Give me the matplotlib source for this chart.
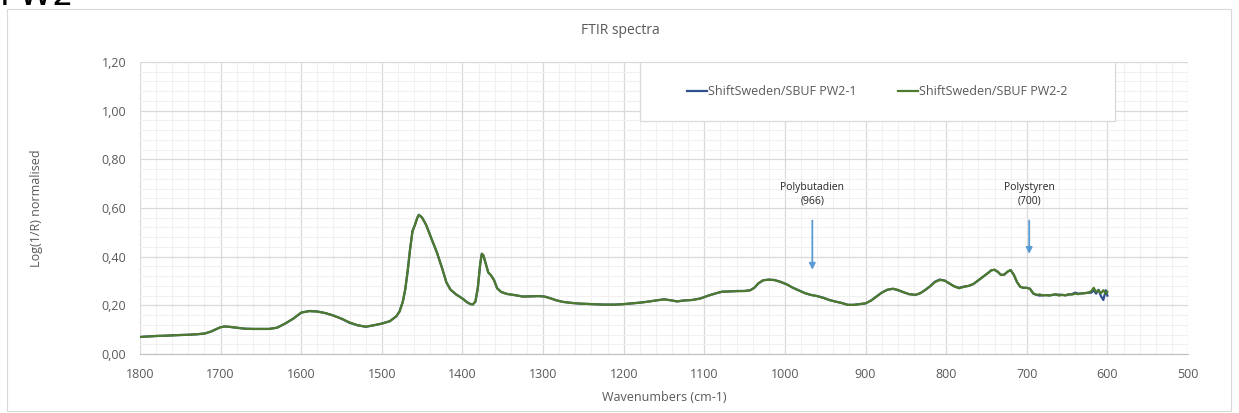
import matplotlib.pyplot as plt
import matplotlib.ticker as ticker
from matplotlib.patches import Rectangle

# wavenumbers (cm-1)
wavenumbers = [1800, 1790, 1780, 1770, 1760, 1750, 1740, 1730, 1720, 1712, 1705, 1700, 1695, 1690, 1680,
               1670, 1660, 1650, 1640, 1630, 1620, 1610, 1600, 1590, 1580, 1570, 1560, 1550, 1540, 1530,
               1520, 1510, 1500, 1490, 1482, 1478, 1474, 1471, 1468, 1465, 1462, 1459, 1456, 1454, 1450,
               1445, 1438, 1432, 1425, 1420, 1415, 1408, 1400, 1394, 1390, 1387, 1384, 1381, 1378, 1376,
               1374, 1371, 1368, 1365, 1361, 1357, 1352, 1345, 1335, 1325, 1315, 1305, 1298, 1290, 1283,
               1275, 1265, 1254, 1240, 1225, 1210, 1200, 1190, 1180, 1170, 1160, 1150, 1140, 1134, 1125,
               1115, 1105, 1095, 1085, 1078, 1070, 1060, 1050, 1043, 1038, 1033, 1027, 1020, 1013, 1005,
               997, 990, 982, 975, 968, 960, 952, 945, 938, 930, 922, 915, 908, 900, 893,
               887, 880, 873, 866, 860, 853, 846, 838, 832, 826, 820, 814, 808, 802, 796,
               790, 784, 778, 772, 766, 760, 754, 748, 744, 740, 736, 732, 728, 724, 720,
               716, 712, 708, 704, 700, 696, 692, 688, 684, 680, 676, 672, 668, 664, 660,
               656, 652, 648, 644, 640, 636, 632, 628, 624, 620, 617, 614, 611, 608, 605,
               602, 600]

pw2_2 = [0.070, 0.072, 0.074, 0.075, 0.076, 0.078, 0.079, 0.081, 0.084, 0.092, 0.103, 0.110, 0.113, 0.112, 0.108,
         0.104, 0.103, 0.103, 0.103, 0.108, 0.125, 0.145, 0.170, 0.176, 0.174, 0.168, 0.158, 0.145, 0.130, 0.118,
         0.112, 0.118, 0.125, 0.135, 0.155, 0.175, 0.215, 0.265, 0.340, 0.430, 0.505, 0.530, 0.560, 0.572, 0.560,
         0.530, 0.470, 0.420, 0.350, 0.295, 0.265, 0.245, 0.228, 0.212, 0.205, 0.204, 0.215, 0.270, 0.370, 0.412,
         0.405, 0.370, 0.335, 0.325, 0.305, 0.270, 0.255, 0.247, 0.242, 0.236, 0.237, 0.238, 0.236, 0.228, 0.220,
         0.214, 0.210, 0.207, 0.205, 0.203, 0.203, 0.205, 0.208, 0.211, 0.215, 0.220, 0.224, 0.220, 0.216, 0.220,
         0.222, 0.228, 0.240, 0.250, 0.256, 0.257, 0.258, 0.259, 0.262, 0.272, 0.290, 0.303, 0.305, 0.304, 0.296,
         0.285, 0.272, 0.260, 0.250, 0.243, 0.238, 0.230, 0.222, 0.216, 0.210, 0.202, 0.202, 0.205, 0.208, 0.220,
         0.235, 0.252, 0.264, 0.268, 0.264, 0.254, 0.246, 0.243, 0.250, 0.263, 0.278, 0.295, 0.304, 0.302, 0.290,
         0.278, 0.270, 0.276, 0.280, 0.288, 0.303, 0.318, 0.333, 0.344, 0.346, 0.338, 0.325, 0.326, 0.338, 0.345,
         0.325, 0.295, 0.276, 0.272, 0.272, 0.268, 0.250, 0.243, 0.245, 0.241, 0.242, 0.240, 0.243, 0.246, 0.240,
         0.243, 0.241, 0.246, 0.244, 0.248, 0.246, 0.249, 0.250, 0.252, 0.258, 0.272, 0.255, 0.262, 0.250, 0.262,
         0.248, 0.255]

pw2_1 = [0.070, 0.072, 0.074, 0.075, 0.077, 0.078, 0.079, 0.081, 0.084, 0.092, 0.103, 0.110, 0.113, 0.112, 0.108,
         0.104, 0.103, 0.103, 0.103, 0.108, 0.125, 0.145, 0.170, 0.177, 0.175, 0.168, 0.158, 0.145, 0.128, 0.118,
         0.112, 0.118, 0.125, 0.135, 0.155, 0.175, 0.215, 0.265, 0.340, 0.430, 0.505, 0.530, 0.560, 0.572, 0.560,
         0.530, 0.470, 0.420, 0.350, 0.295, 0.265, 0.245, 0.228, 0.212, 0.205, 0.204, 0.215, 0.270, 0.370, 0.412,
         0.405, 0.370, 0.335, 0.325, 0.305, 0.270, 0.255, 0.247, 0.242, 0.236, 0.237, 0.238, 0.236, 0.228, 0.220,
         0.214, 0.210, 0.207, 0.205, 0.203, 0.203, 0.205, 0.208, 0.211, 0.215, 0.220, 0.225, 0.220, 0.216, 0.220,
         0.222, 0.228, 0.240, 0.250, 0.256, 0.257, 0.259, 0.259, 0.262, 0.272, 0.290, 0.303, 0.306, 0.304, 0.296,
         0.285, 0.272, 0.260, 0.250, 0.243, 0.238, 0.231, 0.222, 0.216, 0.210, 0.202, 0.202, 0.205, 0.208, 0.220,
         0.235, 0.252, 0.264, 0.268, 0.262, 0.254, 0.246, 0.243, 0.250, 0.263, 0.278, 0.297, 0.306, 0.302, 0.290,
         0.278, 0.272, 0.277, 0.280, 0.288, 0.303, 0.318, 0.333, 0.344, 0.346, 0.338, 0.325, 0.326, 0.338, 0.345,
         0.325, 0.295, 0.276, 0.272, 0.272, 0.268, 0.248, 0.243, 0.240, 0.241, 0.242, 0.241, 0.243, 0.244, 0.244,
         0.243, 0.241, 0.244, 0.246, 0.252, 0.248, 0.249, 0.250, 0.252, 0.252, 0.262, 0.248, 0.264, 0.238, 0.222,
         0.262, 0.240]

series_labels = ["ShiftSweden/SBUF PW2-1", "ShiftSweden/SBUF PW2-2"]
series_colors = ["#2F4F8F", "#4E7A2E"]

# annotations: (label, wavenumber, arrow top, arrow bottom)
peaks = [("Polybutadien\n(966)", 966, 0.56, 0.335),
         ("Polystyren\n(700)", 697, 0.56, 0.40)]

W, H = 1239, 413
fig = plt.figure(figsize=(W / 100, H / 100), dpi=100)
plt.rcParams['font.family'] = ['Open Sans', 'DejaVu Sans']

# outer chart frame
fig.patches.append(Rectangle((7 / W, 0.005), (1231 - 7) / W, 1 - 9 / H - 0.005,
                             transform=fig.transFigure, fill=False, edgecolor="#D9D9D9", lw=0.8))
# heading cut off at the top of the picture
fig.text(0, 1 - 5 / H, "PW2", fontsize=24, color="black", va="baseline", ha="left",
         family="DejaVu Sans")

ax = fig.add_axes([140 / W, 1 - 354 / H, (1188 - 140) / W, (354 - 62) / H])

ax.plot(wavenumbers, pw2_1, color=series_colors[0], lw=1.6, label=series_labels[0])
ax.plot(wavenumbers, pw2_2, color=series_colors[1], lw=1.6, label=series_labels[1])

ax.set_xlim(1800, 500)
ax.set_ylim(0, 1.2)
ax.xaxis.set_major_locator(ticker.MultipleLocator(100))
ax.xaxis.set_minor_locator(ticker.MultipleLocator(20))
ax.yaxis.set_major_locator(ticker.MultipleLocator(0.2))
ax.yaxis.set_minor_locator(ticker.MultipleLocator(0.04))
ax.yaxis.set_major_formatter(ticker.FuncFormatter(lambda v, _: f"{v:.2f}".replace(".", ",")))
ax.grid(which="major", color="#D9D9D9", lw=0.9)
ax.grid(which="minor", color="#F0F0F0", lw=0.8)
ax.set_axisbelow(True)
for s in ["top", "right", "left"]:
    ax.spines[s].set_visible(False)
ax.spines["bottom"].set_color("#BFBFBF")
ax.tick_params(which="both", length=0, labelsize=9, colors="#595959", pad=10)

ax.set_xlabel("Wavenumbers (cm-1)", fontsize=9, color="#595959", labelpad=7)
ax.set_ylabel("Log(1/R) normalised", fontsize=9, color="#595959", labelpad=42)
fig.text(620 / W, 1 - 30 / H, "FTIR spectra", fontsize=10, color="#595959", ha="center", va="center")

for txt, x, ytop, ybot in peaks:
    ax.annotate("", xy=(x, ybot), xytext=(x, ytop),
                arrowprops=dict(arrowstyle="-|>", color="#5B9BD5", lw=1.3, mutation_scale=9))
    ax.text(x, ytop + 0.045, txt, fontsize=7.5, ha="center", va="bottom", color="#262626",
            linespacing=1.3)

# legend box
ax.add_patch(Rectangle((0.477, 0.798), 0.453, 0.202, transform=ax.transAxes,
                       facecolor="white", edgecolor="#D9D9D9", lw=0.9, zorder=5))
ax.legend(loc="center", bbox_to_anchor=(0.477 + 0.453 / 2, 0.899), frameon=False, ncol=2,
          fontsize=9, handlelength=1.6, handletextpad=0.1, columnspacing=3.3,
          labelcolor="#595959").set_zorder(6)

fig.savefig("out.png", dpi=100)
